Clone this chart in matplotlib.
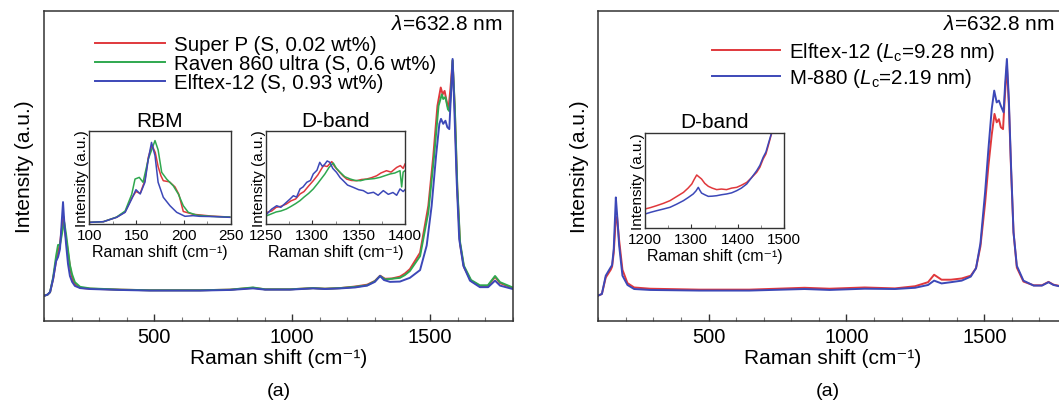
import matplotlib
matplotlib.use("Agg")
import matplotlib.pyplot as plt
from matplotlib.ticker import MultipleLocator

plt.rcParams['font.family'] = ['Liberation Sans', 'DejaVu Sans']
plt.rcParams['mathtext.fontset'] = 'custom'
plt.rcParams['mathtext.rm'] = 'Liberation Sans'
plt.rcParams['mathtext.it'] = 'Liberation Sans:italic'
plt.rcParams['mathtext.bf'] = 'Liberation Sans:bold'

RED = '#e0383c'
GREEN = '#2fa84f'
BLUE = '#3c48b8'

# ---------------- Data: panel 1 (main spectra) ----------------
p1_blue_x = [100, 113, 122, 133, 144, 151, 158, 165, 169, 174, 180, 187, 194, 202, 212, 231, 267, 376, 484, 666, 775,
             858, 902, 992, 1076, 1119, 1174, 1228, 1272, 1300, 1319, 1333, 1355, 1391, 1427, 1464, 1488, 1506,
             1522, 1534, 1540, 1548, 1556, 1563, 1570, 1577, 1582, 1588, 1597, 1606, 1621, 1645, 1681, 1711, 1736,
             1754, 1800]
p1_blue_y = [8.1, 8.5, 9.3, 13.5, 19.3, 20.6, 23.2, 32.9, 38.3, 31.2, 24.8, 18.4, 14.5, 12.6, 11.3, 10.6, 10.3, 10.0, 9.8,
             9.8, 10.0, 10.5, 10.1, 10.1, 10.5, 10.3, 10.5, 10.8, 11.4, 12.6, 14.5, 13.2, 12.6, 12.7, 13.9, 16.4, 24.3,
             37.1, 53.2, 63.5, 65.1, 63.5, 64.5, 62.4, 61.8, 74.7, 84.4, 69.3, 44.7, 26.4, 17.8, 13.0, 10.9, 10.9, 13.0,
             11.4, 10.3]

p1_red_x = [100, 113, 122, 133, 144, 151, 158, 165, 171, 176, 184, 191, 198, 205, 216, 231, 267, 376, 484, 666, 775,
            858, 902, 992, 1076, 1119, 1174, 1228, 1272, 1300, 1319, 1337, 1362, 1391, 1409, 1427, 1464, 1494, 1512,
            1527, 1539, 1546, 1553, 1560, 1567, 1574, 1582, 1590, 1599, 1609, 1623, 1649, 1681, 1710, 1736, 1754, 1800]
p1_red_y = [8.1, 8.5, 9.3, 13.5, 19.5, 22.0, 25.0, 30.0, 33.5, 29.0, 24.0, 19.5, 15.5, 13.0, 11.5, 10.7, 10.4, 10.1, 9.9,
            9.9, 10.1, 10.7, 10.2, 10.2, 10.6, 10.4, 10.6, 11.1, 11.7, 12.9, 14.6, 13.6, 13.7, 14.3, 15.3, 16.7, 22.0,
            37.1, 53.2, 69.3, 75.2, 73.0, 74.1, 70.9, 68.2, 74.7, 83.8, 68.2, 42.5, 24.8, 17.4, 12.9, 11.3, 11.3, 14.2,
            12.2, 10.6]

p1_green_x = [100, 113, 122, 133, 144, 151, 158, 165, 173, 180, 187, 194, 202, 212, 231, 267, 376, 484, 666, 775,
              858, 902, 992, 1076, 1119, 1174, 1228, 1272, 1300, 1319, 1337, 1362, 1391, 1409, 1427, 1464, 1494,
              1515, 1531, 1543, 1548, 1556, 1565, 1570, 1576, 1582, 1590, 1599, 1609, 1623, 1649, 1681, 1710, 1736,
              1754, 1800]
p1_green_y = [8.1, 8.5, 9.3, 14.0, 21.0, 24.5, 24.5, 28.0, 32.0, 28.0, 23.0, 18.0, 15.0, 12.5, 11.0, 10.5, 10.1, 9.9, 9.9,
              10.1, 10.8, 10.2, 10.2, 10.6, 10.4, 10.6, 11.0, 11.5, 12.8, 14.5, 13.4, 13.6, 13.9, 14.8, 16.1, 20.9,
              35.0, 53.2, 69.3, 73.0, 71.5, 72.1, 68.2, 67.6, 73.0, 84.0, 69.0, 43.5, 25.5, 17.8, 13.2, 11.5, 11.5,
              14.5, 12.5, 10.8]

# RBM inset
rbm_blue_x = [101, 115, 129, 138, 145, 149.5, 154, 159, 162.6, 166, 169.7, 173, 178.5, 185.6, 192.7, 201.5, 210, 217,
              231.5, 249]
rbm_blue_y = [1.8, 2.5, 7.2, 12.6, 27, 37, 32.4, 45, 70, 88, 73.7, 45, 28.8, 19.7, 12.6, 8.3, 9.0, 8.3, 8.0, 7.2]
rbm_red_x = [101, 115, 129, 138, 145, 149.5, 154, 159, 162.6, 166.5, 170, 173, 176, 178.5, 185, 190.9, 195, 199.7,
             205, 210, 215, 230, 249]
rbm_red_y = [1.8, 2.5, 7.3, 13, 28, 35, 33, 47, 72, 85, 77, 62, 52, 46.7, 45.5, 40, 32, 13.5, 12, 10.5, 10, 8.5, 7.5]
rbm_green_x = [101, 115, 129, 138, 145, 148.5, 153, 157, 162.6, 169.7, 173, 176.8, 182, 189, 194.4, 199.7, 205, 214,
               230, 249]
rbm_green_y = [1.8, 2.5, 7.5, 14, 32, 48.5, 50.3, 45, 70, 90, 80, 55.7, 48.5, 41.3, 32.4, 19.7, 12.6, 9.5, 8.2, 7.5]

# D-band inset (panel 1)
db1_blue_x = [1251, 1256, 1261.5, 1266, 1272, 1276, 1279.5, 1283, 1286.7, 1290, 1294, 1298, 1301, 1305, 1308, 1311,
              1313.6, 1316, 1319, 1322, 1326, 1330, 1333.4, 1338, 1344, 1350, 1355, 1360, 1366, 1371, 1376.6, 1382,
              1387, 1391, 1394.6, 1398, 1400]
db1_blue_y = [10.8, 16, 19.7, 18, 23.4, 27, 30.5, 29, 37.8, 40, 45, 47, 54, 58, 66.5, 62, 64.7, 68, 66.5, 60, 55.8,
              50, 46.7, 42, 39.6, 37, 36, 33, 34.2, 31, 36, 32, 34, 31, 37.8, 35, 37]
db1_red_x = [1251, 1256, 1261, 1266, 1272, 1277, 1282, 1286.7, 1291, 1296, 1301, 1306, 1312, 1316, 1321, 1324, 1328,
             1333, 1337, 1342, 1348, 1353, 1358.6, 1364, 1369.4, 1374, 1380, 1385, 1391, 1395, 1398, 1400]
db1_red_y = [12.6, 14, 18, 19, 21.6, 25, 27, 32.4, 35, 41, 46.7, 53, 63, 62, 67.3, 62, 57.5, 52, 48.5, 47, 46.7, 48,
             48.5, 50, 52, 55, 57.5, 56, 61, 63, 60, 64.7]
db1_green_x = [1251, 1256, 1261, 1266, 1272, 1277, 1282, 1286.7, 1291, 1296, 1301, 1306, 1313.6, 1318, 1322.6, 1326,
               1330, 1335, 1341, 1346, 1352, 1357, 1362, 1367, 1373, 1378, 1384, 1389, 1394.6, 1396.4, 1398, 1400]
db1_green_y = [9, 11, 13, 14, 16.2, 19, 22, 25.2, 29, 33, 37.8, 44, 54, 61, 65.8, 60, 55.8, 51, 48.5, 47, 46.7, 48,
               48.5, 49, 50.3, 52, 54, 55, 57.5, 40, 56, 57.5]

# ---------------- Data: panel 2 ----------------
p2_blue_x = [100, 113, 127, 145, 150, 156, 163.6, 168, 175.6, 187.6, 205.8, 230, 288, 466, 648, 848, 939, 1066, 1176,
             1249, 1296, 1318, 1345, 1379, 1418, 1451, 1470, 1486, 1503, 1515, 1527, 1536, 1545, 1553, 1560, 1570,
             1576, 1582, 1589, 1597, 1606, 1618, 1642, 1679, 1709, 1733, 1751, 1772, 1800]
p2_blue_y = [8.2, 8.7, 14.6, 17.3, 18.0, 23.2, 39.8, 34.5, 24.3, 14.6, 11.6, 10.3, 10.0, 9.8, 9.8, 10.3, 10.0, 10.4,
             10.3, 10.7, 11.6, 13.0, 12.1, 12.5, 13.0, 14.3, 17.0, 25.0, 41.5, 55.4, 68.3, 74.2, 70.4, 71.0, 69.3,
             67.2, 76.9, 84.4, 71.5, 50.0, 28.6, 17.8, 13.0, 11.4, 11.4, 12.5, 11.6, 11.2, 10.8]
p2_red_x = [100, 113, 127, 145, 150, 156, 163.6, 168, 175.6, 187.6, 205.8, 230, 288, 466, 648, 848, 939, 1066, 1176,
            1249, 1296, 1318, 1345, 1379, 1418, 1451, 1470, 1486, 1503, 1515, 1527, 1537, 1545, 1553, 1560, 1568,
            1574, 1582, 1589, 1597, 1606, 1618, 1642, 1679, 1709, 1733, 1751, 1772, 1800]
p2_red_y = [8.2, 8.7, 14.0, 16.5, 17.5, 22.0, 33.0, 33.5, 26.0, 16.5, 12.2, 10.8, 10.4, 10.1, 10.1, 10.7, 10.4, 10.8,
            10.5, 11.2, 12.5, 14.9, 13.3, 13.3, 13.7, 14.6, 17.0, 24.0, 38.0, 50.0, 60.0, 66.7, 64.0, 65.0, 62.4,
            61.8, 71.5, 82.2, 70.0, 49.0, 28.6, 17.2, 12.7, 11.5, 11.5, 12.6, 11.7, 11.3, 10.9]

# D-band inset (panel 2)
db2_red_x = [1200, 1212, 1225, 1240, 1254, 1268, 1283, 1293, 1301, 1306, 1311.6, 1316, 1322, 1329, 1336.6, 1345,
             1354.7, 1365, 1376, 1387, 1398, 1408, 1419.5, 1430, 1441, 1448, 1455, 1461, 1466, 1473.5]
db2_red_y = [20, 21.5, 23.5, 26, 28.8, 33, 37.5, 42, 46.3, 51, 55.8, 54, 51.6, 47, 43.9, 42, 40.4, 41, 40.4, 42,
             42.8, 45, 48, 53, 58.6, 64, 72.6, 78, 86.6, 100]
db2_blue_x = [1200, 1212, 1225, 1240, 1254, 1268, 1283, 1293, 1304, 1310, 1315, 1318, 1322, 1329, 1336.6, 1345,
              1354.7, 1365, 1376, 1387, 1398, 1408, 1419.5, 1430, 1441, 1448, 1455, 1461, 1466, 1473.5]
db2_blue_y = [14.7, 16.5, 18.2, 20, 21.8, 25, 28.8, 32, 35.8, 39, 42.8, 40, 36.8, 35, 33.3, 33.5, 34, 35, 35.8, 37,
              39.3, 42, 46.3, 53, 60.3, 66, 74.4, 80, 88.4, 100.7]

labels1 = ['Super P (S, 0.02 wt%)', 'Raven 860 ultra (S, 0.6 wt%)', 'Elftex-12 (S, 0.93 wt%)']
labels2 = [r'Elftex-12 ($\mathit{L}_\mathrm{c}$=9.28 nm)', r'M-880 ($\mathit{L}_\mathrm{c}$=2.19 nm)']
wavelength = r'$\mathit{\lambda}$=632.8 nm'
xlabel = 'Raman shift (cm\u207b\u00b9)'
ylabel = 'Intensity (a.u.)'

# ---------------- Figure ----------------
W, H = 1059, 402
fig = plt.figure(figsize=(W / 100, H / 100), dpi=100)


def px_axes(x0, y0, x1, y1):
    return fig.add_axes([x0 / W, 1 - y1 / H, (x1 - x0) / W, (y1 - y0) / H])


FRAME = '#333333'


def style(ax, lw=1.1):
    for s in ax.spines.values():
        s.set_color(FRAME)
        s.set_linewidth(lw)
    ax.set_yticks([])


LW = 1.4
FS = 14.8

# Panel 1
ax1 = px_axes(44, 11.5, 512.7, 322)
ax1.plot(p1_red_x, p1_red_y, color=RED, lw=LW, label=labels1[0])
ax1.plot(p1_green_x, p1_green_y, color=GREEN, lw=LW, label=labels1[1])
ax1.plot(p1_blue_x, p1_blue_y, color=BLUE, lw=LW, label=labels1[2])
ax1.set_xlim(100, 1800)
ax1.set_ylim(0, 100)

# Panel 2
ax2 = px_axes(598.3, 11.5, 1067, 322)
ax2.plot(p2_red_x, p2_red_y, color=RED, lw=LW, label=labels2[0])
ax2.plot(p2_blue_x, p2_blue_y, color=BLUE, lw=LW, label=labels2[1])
ax2.set_xlim(100, 1800)
ax2.set_ylim(0, 100)

for ax in (ax1, ax2):
    style(ax)
    ax.xaxis.set_major_locator(MultipleLocator(500))
    ax.xaxis.set_minor_locator(MultipleLocator(100))
    ax.tick_params(axis='x', which='major', direction='in', length=5, width=1, color=FRAME,
                   labelsize=14.5, pad=4.5)
    ax.tick_params(axis='x', which='minor', direction='in', length=3, width=0.8, color='#777777')
    ax.set_xlabel(xlabel, fontsize=15, labelpad=1)
    ax.set_ylabel(ylabel, fontsize=15, labelpad=7)

ax1.text(0.5, -0.195, '(a)', transform=ax1.transAxes, ha='center', va='top', fontsize=14)
ax2.text(0.49, -0.195, '(a)', transform=ax2.transAxes, ha='center', va='top', fontsize=14)

ax1.text(0.978, 0.988, wavelength, transform=ax1.transAxes, ha='right', va='top', fontsize=15)
ax2.text(0.7354, 0.988, wavelength, transform=ax2.transAxes, ha='left', va='top', fontsize=15)

leg1 = ax1.legend(loc='upper left', bbox_to_anchor=(0.109, 0.922), frameon=False, fontsize=FS,
                  handlelength=3.4, handletextpad=0.44, labelspacing=0.0, borderpad=0, borderaxespad=0)
leg2 = ax2.legend(loc='upper left', bbox_to_anchor=(0.2426, 0.905), frameon=False, fontsize=FS,
                  handlelength=3.3, handletextpad=0.44, labelspacing=0.15, borderpad=0, borderaxespad=0)

ILW = 1.1


def inset_style(ax, title):
    style(ax, lw=1.0)
    ax.tick_params(axis='x', which='major', direction='in', length=3, width=0.8, color=FRAME,
                   labelsize=11, pad=3)
    ax.tick_params(axis='x', which='minor', direction='in', length=2, width=0.6, color='#777777')
    ax.set_xlabel(xlabel, fontsize=11.5, labelpad=1)
    ax.set_ylabel(ylabel, fontsize=11, labelpad=0)
    ax.set_title(title, fontsize=15, pad=4)


# RBM inset
axr = px_axes(89.3, 132.3, 230.7, 225)
axr.plot(rbm_red_x, rbm_red_y, color=RED, lw=ILW)
axr.plot(rbm_green_x, rbm_green_y, color=GREEN, lw=ILW)
axr.plot(rbm_blue_x, rbm_blue_y, color=BLUE, lw=ILW)
axr.set_xlim(100, 250)
axr.set_ylim(0, 100)
axr.xaxis.set_major_locator(MultipleLocator(50))
axr.xaxis.set_minor_locator(MultipleLocator(25))
inset_style(axr, 'RBM')

# D-band inset 1
axd1 = px_axes(266, 132.3, 405, 225)
axd1.plot(db1_red_x, db1_red_y, color=RED, lw=ILW)
axd1.plot(db1_green_x, db1_green_y, color=GREEN, lw=ILW)
axd1.plot(db1_blue_x, db1_blue_y, color=BLUE, lw=ILW)
axd1.set_xlim(1250, 1400)
axd1.set_ylim(0, 100)
axd1.xaxis.set_major_locator(MultipleLocator(50))
axd1.xaxis.set_minor_locator(MultipleLocator(25))
inset_style(axd1, 'D-band')

# D-band inset 2
axd2 = px_axes(645, 134, 784, 229)
axd2.plot(db2_red_x, db2_red_y, color=RED, lw=ILW)
axd2.plot(db2_blue_x, db2_blue_y, color=BLUE, lw=ILW)
axd2.set_xlim(1200, 1500)
axd2.set_ylim(0, 100)
axd2.xaxis.set_major_locator(MultipleLocator(100))
axd2.xaxis.set_minor_locator(MultipleLocator(50))
inset_style(axd2, 'D-band')

fig.savefig('out.png', dpi=100)
